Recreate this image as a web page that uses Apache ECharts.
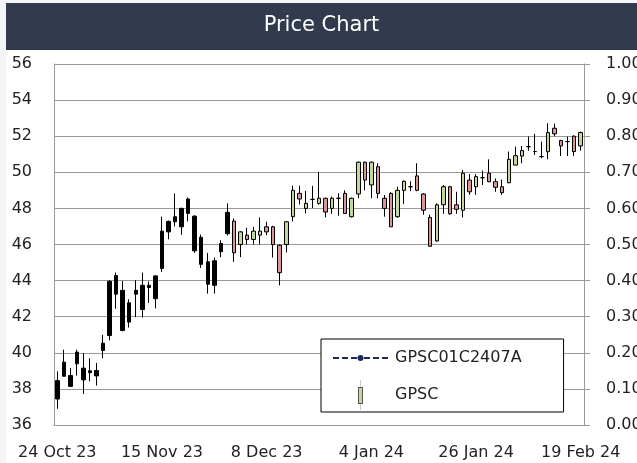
<!DOCTYPE html>
<html>
<head>
<meta charset="utf-8">
<script src="https://cdn.jsdelivr.net/npm/echarts@6/dist/echarts.min.js"></script>
<style>
  html, body { margin: 0; padding: 0; background: #f4f5f8; }
  #chart { position: absolute; left: 6px; top: 3px; width: 631px; height: 460px; }
</style>
</head>
<body>
<div id="chart"></div>
<script>
/* trading days, 24 Oct 23 .. 19 Feb 24 */
var days = [
  "24 Oct 23","25 Oct 23","26 Oct 23","27 Oct 23","30 Oct 23","31 Oct 23",
  "1 Nov 23","2 Nov 23","3 Nov 23","6 Nov 23","7 Nov 23","8 Nov 23","9 Nov 23","10 Nov 23",
  "13 Nov 23","14 Nov 23","15 Nov 23","16 Nov 23","17 Nov 23","20 Nov 23","21 Nov 23","22 Nov 23",
  "23 Nov 23","24 Nov 23","27 Nov 23","28 Nov 23","29 Nov 23","30 Nov 23",
  "1 Dec 23","4 Dec 23","6 Dec 23","7 Dec 23","8 Dec 23","12 Dec 23","13 Dec 23","14 Dec 23",
  "15 Dec 23","18 Dec 23","19 Dec 23","20 Dec 23","21 Dec 23","22 Dec 23","25 Dec 23","26 Dec 23",
  "27 Dec 23","28 Dec 23",
  "2 Jan 24","3 Jan 24","4 Jan 24","5 Jan 24","8 Jan 24","9 Jan 24","10 Jan 24","11 Jan 24",
  "12 Jan 24","15 Jan 24","16 Jan 24","17 Jan 24","18 Jan 24","19 Jan 24","22 Jan 24","23 Jan 24",
  "24 Jan 24","25 Jan 24","26 Jan 24","29 Jan 24","30 Jan 24","31 Jan 24",
  "1 Feb 24","2 Feb 24","5 Feb 24","6 Feb 24","7 Feb 24","8 Feb 24","9 Feb 24","12 Feb 24",
  "13 Feb 24","14 Feb 24","15 Feb 24","16 Feb 24","19 Feb 24"
];

var opens = [
  37.44,38.70,38.74,39.39,39.15,38.90,39.02,40.13,40.96,44.28,
  43.46,41.70,43.25,42.40,43.74,43.00,44.67,46.70,47.26,48.00,
  47.72,47.57,46.40,45.04,43.74,45.60,46.60,47.30,46.00,46.52,
  46.28,46.52,46.98,46.98,45.96,46.00,47.54,48.83,48.00,48.50,
  48.28,48.56,48.00,48.56,48.83,47.54,48.80,50.56,49.30,50.31,
  48.56,48.83,47.54,49.00,49.20,49.80,48.80,47.50,46.20,48.20,
  49.20,48.20,47.90,49.57,49.20,49.70,49.95,49.48,49.20,49.42,
  50.40,50.90,51.42,51.15,50.87,51.14,52.44,51.76,51.70,52.00,
  51.46
];
var closes = [
  38.46,39.48,38.14,40.04,38.50,39.00,38.72,40.53,43.96,43.25,
  41.24,42.77,43.46,43.74,43.62,44.26,46.74,47.28,47.54,46.98,
  48.52,45.65,44.90,43.80,45.10,46.06,47.78,45.54,46.70,46.28,
  46.74,46.74,46.70,46.00,44.44,47.26,49.00,48.52,48.28,48.50,
  48.56,47.80,48.56,48.56,47.72,48.56,50.56,49.57,50.56,48.83,
  48.00,46.98,49.00,49.50,49.20,49.00,47.90,45.90,48.20,49.20,
  47.70,47.95,49.95,48.92,49.76,49.70,49.48,49.17,48.87,50.72,
  50.92,51.20,51.42,51.15,50.87,52.20,52.13,51.46,51.70,51.15,
  52.20
];
var lows = [
  36.90,38.70,38.10,38.74,37.72,38.42,38.19,39.70,40.69,42.44,
  41.19,41.40,41.98,41.95,42.76,42.46,44.48,46.29,47.00,46.54,
  47.28,45.53,44.70,43.28,43.28,45.30,46.50,45.04,45.30,46.00,
  46.00,46.00,46.52,45.28,43.74,45.56,47.28,48.22,47.72,48.02,
  48.20,47.50,47.70,47.59,47.72,47.50,48.56,49.00,48.56,48.56,
  47.54,46.98,47.48,48.25,48.95,48.95,47.65,45.87,46.15,47.70,
  47.65,47.70,47.50,48.75,48.75,49.30,49.45,48.92,48.75,49.40,
  50.40,50.50,51.20,50.96,50.78,50.72,52.00,50.90,50.90,50.90,
  51.20
];
var highs = [
  38.97,40.17,39.16,40.17,39.98,39.70,39.44,41.00,44.02,44.45,
  43.98,42.97,44.02,44.44,43.95,44.30,47.54,47.33,48.83,48.04,
  48.60,47.62,46.55,45.53,45.28,46.24,48.28,47.44,46.74,46.93,
  46.98,47.50,47.26,47.04,46.00,47.30,49.26,49.26,48.97,49.25,
  50.02,48.60,48.65,48.83,49.00,48.60,50.60,50.60,50.60,50.50,
  48.74,48.90,49.20,49.55,49.50,50.50,48.85,47.65,48.28,49.30,
  49.25,48.92,50.13,49.90,49.90,50.10,50.72,49.66,49.60,51.15,
  51.42,51.46,51.98,52.13,51.70,52.72,52.70,51.80,51.98,52.05,
  52.26
];
var warrant = []; // GPSC01C2407A, no prices in this window

var leftTicks = { min: 36, max: 56, step: 2 };
var rightTicks = { min: 0, max: 1, step: 0.1 };

var labelFont = 'DejaVu Sans';
var plainCount = 27; // older bars are drawn solid black

var candles = opens.map(function (o, i) {
  var item = { value: [o, closes[i], lows[i], highs[i]] };
  if (i < plainCount) {
    item.itemStyle = { color: '#000', color0: '#000', borderColor: '#000', borderColor0: '#000' };
  }
  return item;
});

var candleSvg = '<svg xmlns="http://www.w3.org/2000/svg" width="8" height="30">' +
  '<line x1="4" y1="0" x2="4" y2="30" stroke="#c8c8c8" stroke-width="1"/>' +
  '<rect x="2" y="7.5" width="4" height="16" fill="#c4d79b" stroke="#555" stroke-width="1"/></svg>';
var candleIcon = 'image://data:image/svg+xml;charset=utf-8,' + encodeURIComponent(candleSvg);
var dashIcon = 'path://M0 2.1h6v1.8h-6z M9 2.1h6v1.8h-6z M18 2.1h6v1.8h-6z ' +
  'M31 2.1h6v1.8h-6z M40 2.1h6v1.8h-6z M49 2.1h6v1.8h-6z ' +
  'M24.5 3a3 3 0 1 0 6 0a3 3 0 1 0 -6 0z';

var chart = echarts.init(document.getElementById('chart'));
chart.setOption({
  backgroundColor: '#fff',
  animation: false,
  title: {
    text: 'Price Chart',
    left: 'center',
    top: 7,
    textStyle: { color: '#fff', fontFamily: labelFont, fontSize: 21, fontWeight: 'normal' }
  },
  graphic: [{
    type: 'rect', z: -1, left: 0, top: 0,
    shape: { width: 631, height: 47 },
    style: { fill: '#323b4d' }
  }],
  grid: { left: 48, right: 53, top: 61, bottom: 38, outerBoundsMode: 'none' },
  legend: {
    orient: 'vertical',
    left: 315,
    top: 336,
    itemWidth: 55,
    itemHeight: 30,
    itemGap: 14,
    padding: [11, 42, 2, 12],
    backgroundColor: '#fff',
    borderColor: '#000',
    borderWidth: 1,
    selectedMode: false,
    symbolKeepAspect: true,
    textStyle: { fontFamily: labelFont, fontSize: 16, color: '#222', padding: [0, 0, 0, 2] },
    data: [
      { name: 'GPSC01C2407A', icon: dashIcon, itemStyle: { color: '#1c2a5a', borderWidth: 0 } },
      { name: 'GPSC', icon: candleIcon }
    ]
  },
  xAxis: {
    type: 'category',
    data: days,
    boundaryGap: true,
    axisLine: { lineStyle: { color: '#999', width: 1 } },
    axisTick: { show: false },
    axisLabel: {
      interval: 15,
      margin: 20,
      color: '#222',
      fontFamily: labelFont,
      fontSize: 16
    },
    splitLine: { show: false }
  },
  yAxis: [{
    type: 'value',
    position: 'left',
    min: leftTicks.min, max: leftTicks.max, interval: leftTicks.step,
    axisLine: { show: true, lineStyle: { color: '#999', width: 1 } },
    axisTick: { show: false },
    axisLabel: { margin: 22, color: '#222', fontFamily: labelFont, fontSize: 16 },
    splitLine: { show: true, lineStyle: { color: '#999', width: 1 } }
  }, {
    type: 'value',
    position: 'right',
    min: rightTicks.min, max: rightTicks.max, interval: rightTicks.step,
    axisLine: { show: true, lineStyle: { color: '#999', width: 1 } },
    axisTick: { show: true, length: 6, lineStyle: { color: '#999' } },
    axisLabel: {
      margin: 22, color: '#222', fontFamily: labelFont, fontSize: 16,
      formatter: function (v) { return v.toFixed(2); }
    },
    splitLine: { show: false }
  }],
  series: [{
    name: 'GPSC01C2407A',
    type: 'line',
    yAxisIndex: 1,
    data: warrant,
    color: '#1c2a5a',
    symbol: 'circle',
    lineStyle: { type: 'dashed', width: 1.5 }
  }, {
    name: 'GPSC',
    type: 'candlestick',
    yAxisIndex: 0,
    data: candles,
    barWidth: 4,
    itemStyle: {
      color: '#c4d79b',
      color0: '#d99694',
      borderColor: '#000',
      borderColor0: '#000',
      borderWidth: 1
    }
  }]
});
</script>
</body>
</html>
